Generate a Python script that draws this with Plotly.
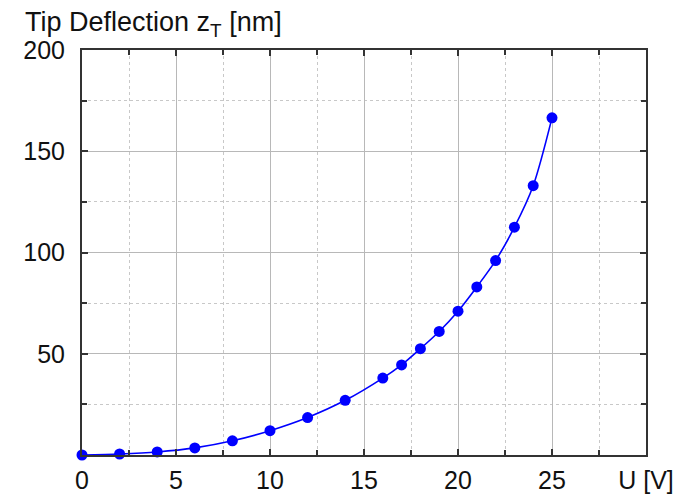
import plotly.graph_objects as go

voltage = [0, 2, 4, 6, 8, 10, 12, 14, 16, 17, 18, 19, 20, 21, 22, 23, 24, 25]
deflection = [0, 0.5, 1.5, 3.5, 7, 12, 18.5, 27, 38, 44.5, 52.5, 61, 71, 83, 96, 112.5, 133, 166.5]

x_tickvals = [0, 5, 10, 15, 20, 25, 30]
x_ticktext = ["0", "5", "10", "15", "20", "25", "U [V]"]
y_tickvals = [0, 50, 100, 150, 200]
y_ticktext = ["", "50", "100", "150", "200"]

fig = go.Figure()
fig.add_trace(go.Scatter(
    x=voltage, y=deflection, mode="lines+markers",
    line=dict(color="#0000ff", width=1.6, shape="spline", smoothing=0.8),
    marker=dict(color="#0000ff", size=11),
    cliponaxis=False, showlegend=False,
))

font = dict(family="Liberation Sans, Arial, sans-serif", size=25, color="#111111")
title_font = dict(family="Liberation Sans, Arial, sans-serif", size=27, color="#111111")
axis_common = dict(
    showline=True, linecolor="#333333", linewidth=2, mirror="ticks",
    ticks="inside", ticklen=6, tickwidth=2, tickcolor="#333333",
    showgrid=True, gridcolor="#b8b8b8", gridwidth=1.2,
    zeroline=False, tickfont=font, automargin=False,
)
fig.update_xaxes(
    range=[0, 30], tickmode="array", tickvals=x_tickvals, ticktext=x_ticktext,
    ticklabelstandoff=2,
    minor=dict(dtick=2.5, tick0=0, ticks="inside", ticklen=5, tickcolor="#333333",
               showgrid=True, gridcolor="#c8c8c8", griddash="dot", gridwidth=1),
    **axis_common,
)
fig.update_yaxes(
    range=[0, 200], tickmode="array", tickvals=y_tickvals, ticktext=y_ticktext,
    ticklabelstandoff=10,
    minor=dict(dtick=25, tick0=0, ticks="inside", ticklen=5, tickcolor="#333333",
               showgrid=True, gridcolor="#c8c8c8", griddash="dot", gridwidth=1),
    **axis_common,
)
fig.add_annotation(
    text="Tip Deflection z<sub>T</sub> [nm]", xref="paper", yref="paper",
    x=-0.102, y=1.0, yshift=8, xanchor="left", yanchor="bottom",
    borderpad=0, showarrow=False, font=title_font,
)
fig.update_layout(
    width=684, height=496, margin=dict(l=74, r=46, t=42, b=49),
    plot_bgcolor="white", paper_bgcolor="white", font=font,
)
fig.write_html("out.html")
